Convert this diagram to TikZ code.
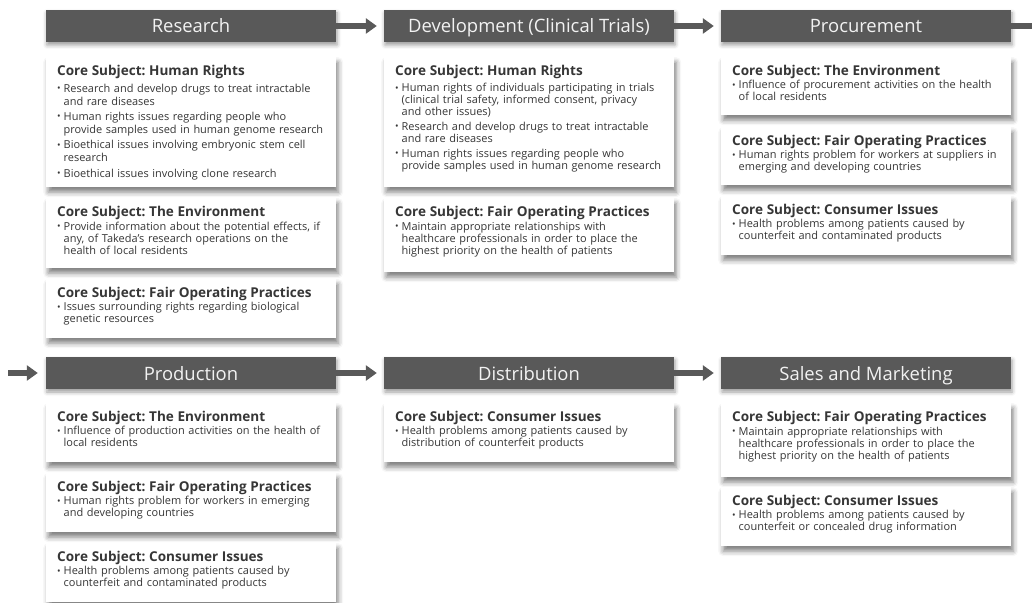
\documentclass[tikz,border=0pt]{standalone}
\usepackage{fontspec}
\setmainfont{Open Sans}
\usetikzlibrary{arrows.meta,shadows.blur}
\frenchspacing

\definecolor{hdrgray}{HTML}{595959}
\definecolor{txtgray}{HTML}{363636}
\definecolor{hdrtext}{HTML}{F2F2F2}

% title line and bullet lines of a subject box
\newcommand\ttl[1]{{\bfseries\fontsize{13.6}{12}\selectfont #1}}
\newcommand\itm[1]{\makebox[6.5bp][l]{\raisebox{.6bp}{\fontsize{9.5}{7}\selectfont •}}#1}
\newcommand\cnt[1]{\hspace*{6.5bp}#1}

\tikzset{
  stage/.style={fill=hdrgray, text=hdrtext, minimum width=290bp, minimum height=32bp,
    inner sep=0pt, text height=14bp, text depth=0bp, font=\fontsize{18.5}{20}\selectfont,
    blur shadow={shadow xshift=1bp, shadow yshift=-3bp, shadow blur radius=4bp, shadow opacity=40}},
  subject/.style={fill=white, text=txtgray, anchor=north west, text width=268bp, align=left,
    inner xsep=11bp, inner ysep=0pt, text height=18.5bp, text depth=#1,
    font=\fontsize{11}{12}\selectfont,
    blur shadow={shadow xshift=2bp, shadow yshift=-5bp, shadow blur radius=5bp, shadow opacity=50}},
  flow/.style={hdrgray, line width=5.5bp, -{Triangle[length=11bp,width=15bp]}, shorten >=7bp}
}

\begin{document}
\begin{tikzpicture}[x=1bp, y=-1bp]
  \useasboundingbox (0,0) rectangle (1032,603);

  % Draw stage headers
  \node[stage] (res)  at (191,26)  {Research};
  \node[stage] (dev)  at (529,26)  {Development (Clinical Trials)};
  \node[stage] (proc) at (866,26)  {Procurement};
  \node[stage] (prod) at (191,373) {Production};
  \node[stage] (dist) at (529,373) {Distribution};
  \node[stage] (sale) at (866,373) {Sales and Marketing};

  % Free ends of the flow
  \coordinate (inL)  at (8,373);
  \coordinate (outR) at (1032,26);

  % Connect stages
  \draw[flow] (res) -- (dev);
  \draw[flow] (dev) -- (proc);
  \draw[hdrgray, line width=5.5bp] (proc.east) -- (outR);
  \draw[flow, shorten >=8bp] (inL) -- (prod.west);
  \draw[flow] (prod) -- (dist);
  \draw[flow] (dist) -- (sale);

  % Research
  \node[subject=111.5bp] (res1) at (46,57) {\ttl{Core Subject: Human Rights}\\[4.5bp]
    \itm{Research and develop drugs to treat intractable}\\[1bp]
    \cnt{and rare diseases}\\[3.5bp]
    \itm{Human rights issues regarding people who}\\[1bp]
    \cnt{provide samples used in human genome research}\\[3.5bp]
    \itm{Bioethical issues involving embryonic stem cell}\\[1bp]
    \cnt{research}\\[3.5bp]
    \itm{Bioethical issues involving clone research}};
  \node[subject=51.5bp] (res2) at (46,198) {\ttl{Core Subject: The Environment}\\[1.5bp]
    \itm{Provide information about the potential effects, if}\\
    \cnt{any, of Takeda's research operations on the}\\
    \cnt{health of local residents}};
  \node[subject=40.5bp] (res3) at (46,279) {\ttl{Core Subject: Fair Operating Practices}\\[1bp]
    \itm{Issues surrounding rights regarding biological}\\
    \cnt{genetic resources}};

  % Development
  \node[subject=111.5bp] (dev1) at (384,57) {\ttl{Core Subject: Human Rights}\\[4bp]
    \itm{Human rights of individuals participating in trials}\\
    \cnt{(clinical trial safety, informed consent, privacy}\\
    \cnt{and other issues)}\\[3bp]
    \itm{Research and develop drugs to treat intractable}\\
    \cnt{and rare diseases}\\[3bp]
    \itm{Human rights issues regarding people who}\\
    \cnt{provide samples used in human genome research}};
  \node[subject=55.5bp] (dev2) at (384,198) {\ttl{Core Subject: Fair Operating Practices}\\[1.5bp]
    \itm{Maintain appropriate relationships with}\\
    \cnt{healthcare professionals in order to place the}\\
    \cnt{highest priority on the health of patients}};

  % Procurement
  \node[subject=39.5bp] (proc1) at (721,57) {\ttl{Core Subject: The Environment}\\[1bp]
    \itm{Influence of procurement activities on the health}\\
    \cnt{of local residents}};
  \node[subject=39.5bp] (proc2) at (721,127) {\ttl{Core Subject: Fair Operating Practices}\\[1bp]
    \itm{Human rights problem for workers at suppliers in}\\
    \cnt{emerging and developing countries}};
  \node[subject=40.5bp] (proc3) at (721,196) {\ttl{Core Subject: Consumer Issues}\\[1bp]
    \itm{Health problems among patients caused by}\\
    \cnt{counterfeit and contaminated products}};

  % Production
  \node[subject=40.5bp] (prod1) at (46,403) {\ttl{Core Subject: The Environment}\\[1bp]
    \itm{Influence of production activities on the health of}\\
    \cnt{local residents}};
  \node[subject=40.5bp] (prod2) at (46,473) {\ttl{Core Subject: Fair Operating Practices}\\[1bp]
    \itm{Human rights problem for workers in emerging}\\
    \cnt{and developing countries}};
  \node[subject=40.5bp] (prod3) at (46,543) {\ttl{Core Subject: Consumer Issues}\\[1bp]
    \itm{Health problems among patients caused by}\\
    \cnt{counterfeit and contaminated products}};

  % Distribution
  \node[subject=40.5bp] (dist1) at (384,403) {\ttl{Core Subject: Consumer Issues}\\[1bp]
    \itm{Health problems among patients caused by}\\
    \cnt{distribution of counterfeit products}};

  % Sales and Marketing
  \node[subject=55.5bp] (sale1) at (721,403) {\ttl{Core Subject: Fair Operating Practices}\\[1.5bp]
    \itm{Maintain appropriate relationships with}\\
    \cnt{healthcare professionals in order to place the}\\
    \cnt{highest priority on the health of patients}};
  \node[subject=40.5bp] (sale2) at (721,487) {\ttl{Core Subject: Consumer Issues}\\[1bp]
    \itm{Health problems among patients caused by}\\
    \cnt{counterfeit or concealed drug information}};
\end{tikzpicture}
\end{document}
